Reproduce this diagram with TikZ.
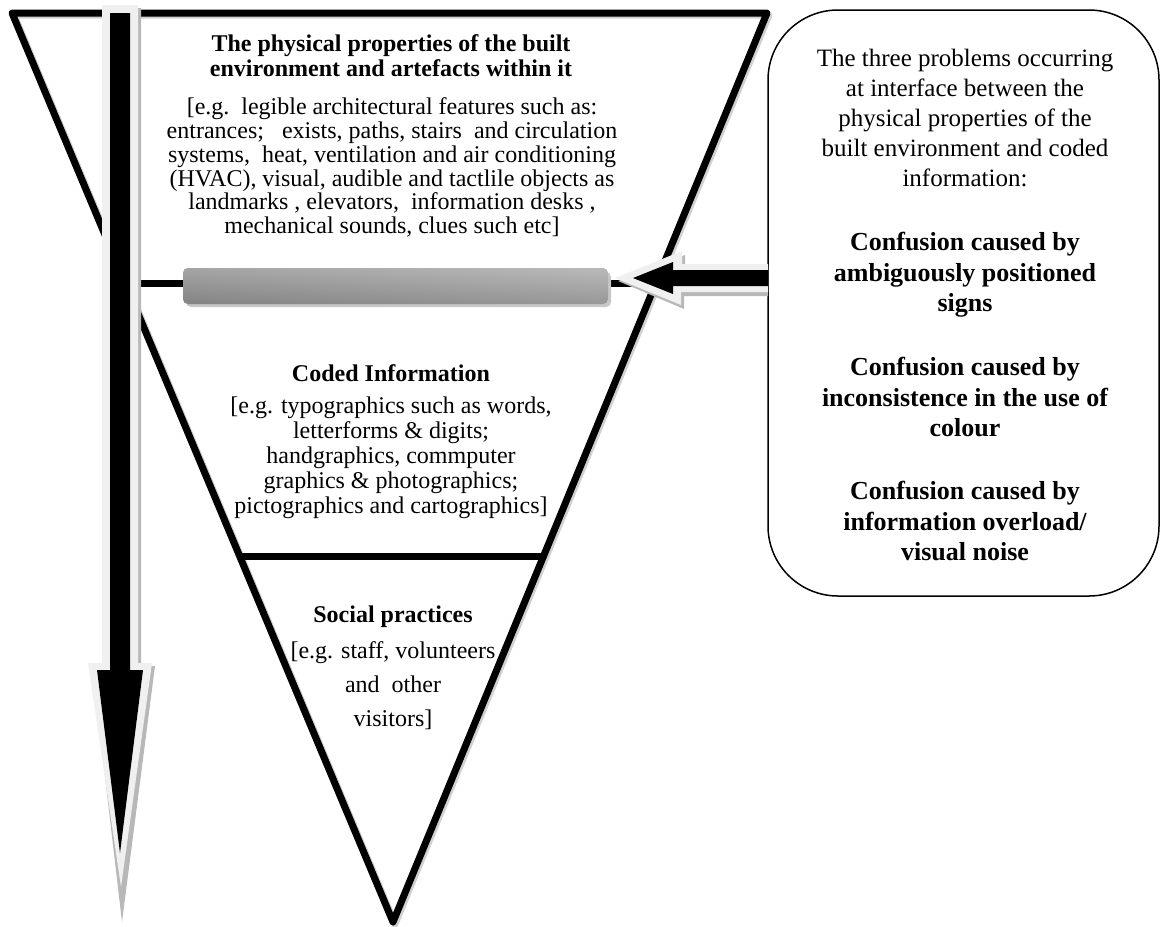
\documentclass[tikz,border=0pt]{standalone}
\usepackage{fontspec}
\setmainfont{Liberation Serif}
\usetikzlibrary{calc}
\begin{document}
\begin{tikzpicture}[x=1pt,y=-1pt,
  txt/.style={align=center,inner sep=0pt,font=\fontsize{24}{23.8}\selectfont},
  ttl/.style={align=center,inner sep=0pt,font=\bfseries\fontsize{24}{25}\selectfont},
  boxtxt/.style={align=center,inner sep=0pt,font=\fontsize{25}{30}\selectfont},
  boxbold/.style={align=center,inner sep=0pt,font=\bfseries\fontsize{26}{30.5}\selectfont},
  tri/.style={line width=7pt,line join=round},
  lightfill/.style={fill=black!6,draw=none},
  shadowfill/.style={fill=black!28,draw=none}]
\useasboundingbox (0,0) rectangle (1161,926);
% rounded box
\draw[line width=1.5pt,rounded corners=70pt] (768,10) rectangle (1159,596);
% triangle
\coordinate (tl) at (12,13);
\coordinate (tr) at (767,13);
\coordinate (ap) at (393,922);
\draw[tri,black!18,transform canvas={shift={(2pt,-2pt)}}] (tl) -- (tr) -- (ap) -- cycle;
\draw[tri] (tl) -- (tr) -- (ap) -- cycle;
\path (tl) -- (ap) coordinate[pos=0.2981] (d1l);
\path (tr) -- (ap) coordinate[pos=0.2981] (d1r);
\draw[tri] (d1l) -- (d1r);
\path (tl) -- (ap) coordinate[pos=0.5975] (d2l);
\path (tr) -- (ap) coordinate[pos=0.5975] (d2r);
\draw[tri] (d2l) -- (d2r);
% cylinder
\fill[black!22,rounded corners=5pt] (186,272) rectangle (611,307);
\shade[rounded corners=5pt,left color=black!45,right color=black!22] (183,268) rectangle (608,304);
\shade[rounded corners=5pt,top color=black!30,middle color=black!12,bottom color=black!50,opacity=0.65] (183,268) rectangle (608,304);
% left-pointing block arrow
\fill[shadowfill] (768,267) -- (685,267) -- (685,255) -- (618,281) -- (684,309) -- (684,296) -- (768,296) -- cycle;
\fill[lightfill] (768,264) -- (682,264) -- (682,251) -- (615,278) -- (681,305) -- (681,292) -- (768,292) -- cycle;
\fill (768,270) -- (673,270) -- (673,262) -- (633,278) -- (673,294) -- (673,286) -- (768,286) -- cycle;
% down arrow
\fill[shadowfill] (106,8) -- (141,8) -- (141,666) -- (155,666) -- (122,922) -- (92,666) -- (106,666) -- cycle;
\fill[lightfill] (102,5) -- (138,5) -- (138,663) -- (152,663) -- (121,887) -- (88,663) -- (102,663) -- cycle;
\fill (110,13) -- (130,13) -- (130,670) -- (143,670) -- (120,853) -- (97,670) -- (110,670) -- cycle;
% texts
\node[ttl] (t1) at (391,55.5) {The physical properties of the built\\environment and artefacts within it};
\node[txt] (b1) at (392,167.5) {[e.g.\ \ legible architectural features such as:\\entrances;\ \ \ exists, paths, stairs\ \ and circulation\\systems,\ \ heat, ventilation and air conditioning\\(HVAC), visual, audible and tactlile objects as\\landmarks , elevators,\ \ information desks ,\\mechanical sounds, clues such etc]};
\node[ttl] (t2) at (391,373) {Coded Information};
\node[txt,font=\fontsize{24}{25}\selectfont] (b2) at (391,458) {[e.g. typographics such as words,\\letterforms \& digits;\\handgraphics, commputer\\graphics \& photographics;\\pictographics and cartographics]};
\node[ttl] (t3) at (393,617) {Social practices};
\node[txt,font=\fontsize{24}{34}\selectfont] (b3) at (393,686) {[e.g. staff, volunteers\\and\ \ other\\visitors]};
\node[boxtxt] (p0) at (965,118) {The three problems occurring\\at interface between the\\physical properties of the\\built environment and coded\\information:};
\node[boxbold] (p1) at (965,275) {Confusion caused by\\ambiguously positioned\\signs};
\node[boxbold] (p2) at (965,397) {Confusion caused by\\inconsistence in the use of\\colour};
\node[boxbold] (p3) at (965,521) {Confusion caused by\\information overload/\\visual noise};
\end{tikzpicture}
\end{document}
